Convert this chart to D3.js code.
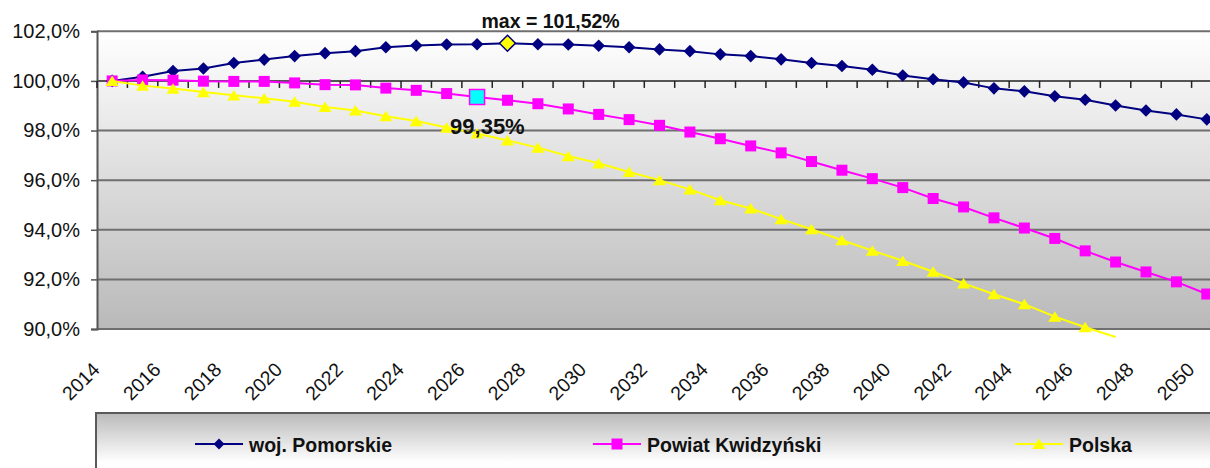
<!doctype html>
<html lang="pl">
    <head>
        <meta charset="utf-8">
        <title>Prognoza ludności</title>
        <style type="text/css">
        body {
          margin: 0;
          background: #fff;
          font-family: "Liberation Sans", Arial, sans-serif;
        }
        svg {
          display: block;
        }
        .ylab {
          font-size: 20px;
          fill: #111;
        }
        .xlab {
          font-size: 19.5px;
          fill: #111;
        }
        .legend-label {
          font-size: 19.5px;
          font-weight: bold;
          fill: #111;
        }
        .note {
          font-weight: bold;
          fill: #111;
        }
        </style>
    </head>
    <body>
        <div id="root"></div>

        <script src="https://d3js.org/d3.v7.min.js"></script>
        <script>

        var width = 1210,
            height = 468;

        // lata 2014-2050
        var years = d3.range(2014, 2051);

        var yTicks = [90, 92, 94, 96, 98, 100, 102];

        var pomorskie = [100.00, 100.17, 100.40, 100.50, 100.72, 100.86, 101.00, 101.12, 101.20, 101.36,
                         101.43, 101.47, 101.48, 101.52, 101.48, 101.47, 101.42, 101.36, 101.27, 101.20,
                         101.07, 101.00, 100.87, 100.72, 100.60, 100.45, 100.22, 100.07, 99.94, 99.70,
                         99.58, 99.38, 99.24, 99.01, 98.81, 98.65, 98.45];

        var kwidzynski = [100.00, 100.04, 100.03, 99.99, 99.98, 99.98, 99.92, 99.85, 99.84, 99.71,
                          99.62, 99.49, 99.35, 99.22, 99.08, 98.87, 98.65, 98.44, 98.21, 97.94,
                          97.67, 97.38, 97.10, 96.75, 96.40, 96.06, 95.70, 95.26, 94.92, 94.48,
                          94.07, 93.65, 93.15, 92.70, 92.30, 91.90, 91.41];

        // Polska - linia urywa się w 2047
        var polska = [100.00, 99.81, 99.69, 99.55, 99.42, 99.30, 99.16, 98.95, 98.81, 98.58,
                      98.38, 98.12, 97.88, 97.60, 97.31, 96.97, 96.68, 96.33, 96.00, 95.63,
                      95.19, 94.86, 94.43, 94.02, 93.58, 93.16, 92.75, 92.31, 91.84, 91.40,
                      91.00, 90.50, 90.07, 89.68];

        var series = [
          {name: "woj. Pomorskie", values: pomorskie, color: "#000080", shape: "diamond"},
          {name: "Powiat Kwidzyński", values: kwidzynski, color: "#ff00ff", shape: "square"},
          {name: "Polska", values: polska, color: "#ffff00", shape: "triangle"}
        ];

        var maxYear = 2027, maxValue = 101.52;
        var markYear = 2026, markValue = 99.35;

        var plotLeft = 97, plotRight = 1222, plotTop = 31.3, plotBottom = 329;

        var x = d3.scaleBand()
            .domain(years)
            .range([plotLeft, plotRight]);

        var y = d3.scaleLinear()
            .domain([90, 102])
            .range([plotBottom, plotTop]);

        function cx(yr) { return x(yr) + x.bandwidth() / 2; }

        function shapePath(shape, s) {
          if (shape === "diamond") return "M0," + (-s) + "L" + s + ",0L0," + s + "L" + (-s) + ",0Z";
          if (shape === "square") return "M" + (-s) + "," + (-s) + "h" + (2 * s) + "v" + (2 * s) + "h" + (-2 * s) + "Z";
          return "M0," + (-s * 0.9) + "L" + (s * 1.1) + "," + (s * 0.85) + "L" + (-s * 1.1) + "," + (s * 0.85) + "Z";
        }

        var svg = d3.select("#root").append("svg")
            .attr("width", width)
            .attr("height", height);

        var defs = svg.append("defs");
        var g1 = defs.append("linearGradient").attr("id", "plotbg")
            .attr("x1", 0).attr("y1", 0).attr("x2", 0).attr("y2", 1);
        g1.append("stop").attr("offset", 0).attr("stop-color", "#ffffff");
        g1.append("stop").attr("offset", 1).attr("stop-color", "#b9b9b9");

        var g2 = defs.append("linearGradient").attr("id", "legbg")
            .attr("x1", 0).attr("y1", 0).attr("x2", 0).attr("y2", 1);
        g2.append("stop").attr("offset", 0).attr("stop-color", "#bababa");
        g2.append("stop").attr("offset", 0.7).attr("stop-color", "#ffffff");

        // tło obszaru wykresu
        svg.append("rect")
            .attr("x", plotLeft).attr("y", plotTop)
            .attr("width", plotRight - plotLeft).attr("height", plotBottom - plotTop)
            .attr("fill", "url(#plotbg)");

        // linie siatki
        svg.selectAll(".grid")
            .data(yTicks)
            .enter().append("line")
            .attr("class", "grid")
            .attr("x1", plotLeft).attr("x2", plotRight)
            .attr("y1", function(d) { return y(d); })
            .attr("y2", function(d) { return y(d); })
            .attr("stroke", "#6f6f6f")
            .attr("stroke-width", 2);

        // oś Y
        var yAxis = svg.append("g")
            .attr("transform", "translate(" + plotLeft + ",0)")
            .call(d3.axisLeft(y).tickValues(yTicks).tickSize(6).tickPadding(10)
              .tickFormat(function(d) { return d.toFixed(1).replace(".", ",") + "%"; }));
        yAxis.attr("font-family", null).attr("font-size", null);
        yAxis.select(".domain").attr("stroke", "#555").attr("stroke-width", 2);
        yAxis.selectAll(".tick line").attr("stroke", "#555").attr("stroke-width", 1.5);
        yAxis.selectAll(".tick text")
            .attr("class", "ylab")
            .attr("x", -17);

        // oś X przecina oś Y na 100%
        var xAxisY = y(100);
        var bounds = years.map(function(d) { return x(d); }).concat([plotRight]);
        svg.append("line")
            .attr("x1", plotLeft).attr("x2", plotRight)
            .attr("y1", xAxisY).attr("y2", xAxisY)
            .attr("stroke", "#555").attr("stroke-width", 2);
        svg.selectAll(".xtick")
            .data(bounds)
            .enter().append("line")
            .attr("class", "xtick")
            .attr("x1", function(d) { return d; }).attr("x2", function(d) { return d; })
            .attr("y1", xAxisY).attr("y2", xAxisY + 7)
            .attr("stroke", "#222").attr("stroke-width", 1.5);

        svg.selectAll(".xlab")
            .data(years.filter(function(d) { return (d - 2014) % 2 === 0; }))
            .enter().append("text")
            .attr("class", "xlab")
            .attr("text-anchor", "end")
            .attr("dy", "0.35em")
            .attr("transform", function(d) { return "translate(" + (cx(d) - 16) + ",366) rotate(-45)"; })
            .text(function(d) { return d; });

        // serie
        var line = d3.line()
            .x(function(d, i) { return cx(years[i]); })
            .y(function(d) { return y(d); });

        series.forEach(function(s) {
          svg.append("path")
              .datum(s.values)
              .attr("fill", "none")
              .attr("stroke", s.color)
              .attr("stroke-width", 2)
              .attr("d", line);

          var size = s.shape === "diamond" ? 6.3 : (s.shape === "square" ? 5.5 : 6);
          svg.selectAll(null)
              .data(s.values.map(function(v, i) { return {year: years[i], v: v}; })
                .filter(function(d) { return d.v >= 90; }))
              .enter().append("path")
              .attr("transform", function(d) { return "translate(" + cx(d.year) + "," + y(d.v) + ")"; })
              .attr("d", shapePath(s.shape, size))
              .attr("fill", s.color);
        });

        // wyróżnione punkty
        svg.append("path")
            .attr("transform", "translate(" + cx(maxYear) + "," + y(maxValue) + ")")
            .attr("d", shapePath("diamond", 8))
            .attr("fill", "#ffff00")
            .attr("stroke", "#000080")
            .attr("stroke-width", 1.5);

        svg.append("path")
            .attr("transform", "translate(" + cx(markYear) + "," + y(markValue) + ")")
            .attr("d", shapePath("square", 7.5))
            .attr("fill", "#00ffff")
            .attr("stroke", "#ff00ff")
            .attr("stroke-width", 1.5);

        svg.append("text")
            .attr("class", "note")
            .attr("x", cx(maxYear) - 26)
            .attr("y", y(maxValue) - 15)
            .attr("font-size", "19.5px")
            .text("max = " + maxValue.toFixed(2).replace(".", ",") + "%");

        svg.append("text")
            .attr("class", "note")
            .attr("x", cx(markYear) - 27)
            .attr("y", y(markValue) + 37)
            .attr("font-size", "22px")
            .text(markValue.toFixed(2).replace(".", ",") + "%");

        // legenda
        var legendX = [195, 593, 1015];
        svg.append("rect")
            .attr("x", 96).attr("y", 413)
            .attr("width", 1140).attr("height", 70)
            .attr("fill", "url(#legbg)")
            .attr("stroke", "#5a5a5a")
            .attr("stroke-width", 2);

        var leg = svg.selectAll(".leg")
            .data(series)
            .enter().append("g")
            .attr("class", "leg")
            .attr("transform", function(d, i) { return "translate(" + legendX[i] + ",444)"; });
        leg.append("line")
            .attr("x1", 0).attr("x2", 48)
            .attr("stroke", function(d) { return d.color; })
            .attr("stroke-width", 2);
        leg.append("path")
            .attr("transform", "translate(24,0)")
            .attr("d", function(d) { return shapePath(d.shape, d.shape === "triangle" ? 6 : 5.5); })
            .attr("fill", function(d) { return d.color; });
        leg.append("text")
            .attr("class", "legend-label")
            .attr("x", 54)
            .attr("y", 8)
            .text(function(d) { return d.name; });

        </script>
    </body>
</html>
